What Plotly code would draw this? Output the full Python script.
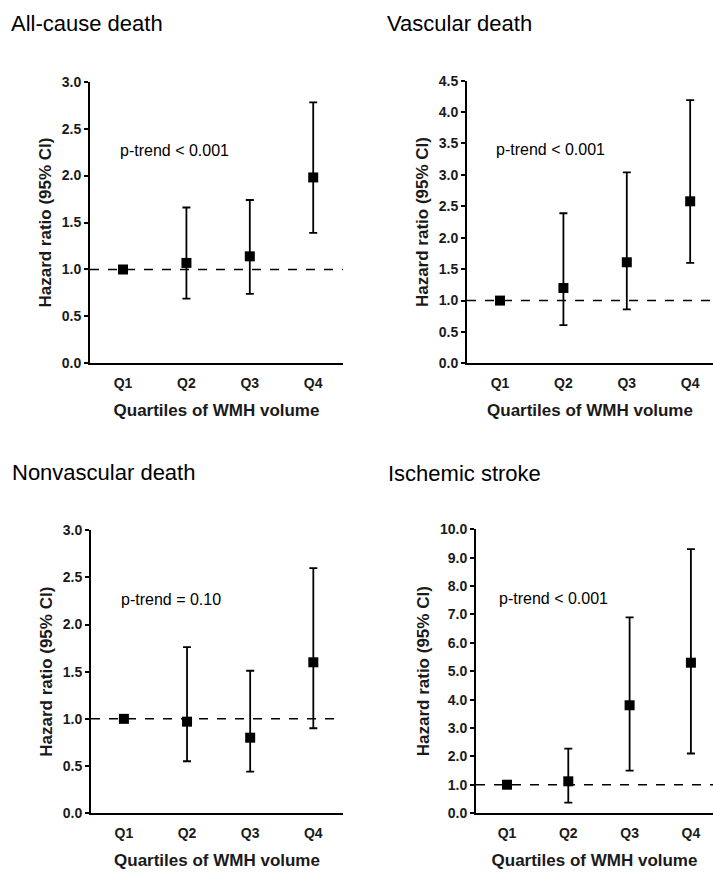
import plotly.graph_objects as go

quartiles = ["Q1", "Q2", "Q3", "Q4"]
x_pos = [1, 2, 3, 4]

titles = ["All-cause death", "Vascular death", "Nonvascular death", "Ischemic stroke"]
ptrend = ["p-trend < 0.001", "p-trend < 0.001", "p-trend = 0.10", "p-trend < 0.001"]

allcause_hr = [1.0, 1.07, 1.14, 1.98]
allcause_lo = [1.0, 0.69, 0.74, 1.39]
allcause_hi = [1.0, 1.66, 1.74, 2.78]

vascular_hr = [1.0, 1.20, 1.61, 2.58]
vascular_lo = [1.0, 0.61, 0.86, 1.60]
vascular_hi = [1.0, 2.39, 3.04, 4.19]

nonvasc_hr = [1.0, 0.97, 0.80, 1.60]
nonvasc_lo = [1.0, 0.55, 0.44, 0.90]
nonvasc_hi = [1.0, 1.76, 1.51, 2.60]

ischemic_hr = [1.0, 1.12, 3.8, 5.3]
ischemic_lo = [1.0, 0.37, 1.5, 2.1]
ischemic_hi = [1.0, 2.27, 6.9, 9.3]

y_max = [3.0, 4.5, 3.0, 10.0]
y_dtick = [0.5, 0.5, 0.5, 1.0]

W, H = 713, 880
# panel plot areas in pixels: (left, right, top, bottom)
boxes = [(90, 343, 75, 362), (467, 713, 74, 362), (91, 343, 532, 820), (476, 713, 531, 820)]
x_ranges = [[0.479, 4.47], [0.479, 4.36], [0.479, 4.47], [0.495, 4.36]]
title_pos = [(9, 16), (385, 16), (10, 473), (386, 474)]

series = [
    (allcause_hr, allcause_lo, allcause_hi),
    (vascular_hr, vascular_lo, vascular_hi),
    (nonvasc_hr, nonvasc_lo, nonvasc_hi),
    (ischemic_hr, ischemic_lo, ischemic_hi),
]

FONT = "Liberation Sans, Arial, sans-serif"
fig = go.Figure()
layout = dict(
    width=W, height=H, margin=dict(l=0, r=0, t=0, b=0),
    paper_bgcolor="white", plot_bgcolor="white", showlegend=False,
    font=dict(family=FONT, color="black"),
)
annotations = []
shapes = []

for i, (hr, lo, hi) in enumerate(series):
    n = i + 1
    xa = "x" if n == 1 else f"x{n}"
    ya = "y" if n == 1 else f"y{n}"
    plus = [h - m for h, m in zip(hi, hr)]
    minus = [m - l for m, l in zip(hr, lo)]
    fig.add_trace(go.Scatter(
        x=x_pos, y=hr, mode="markers", xaxis=xa, yaxis=ya,
        marker=dict(symbol="square", size=10, color="black"),
        error_y=dict(type="data", array=plus, arrayminus=minus, visible=True,
                     color="black", thickness=1.8, width=4),
        cliponaxis=False,
    ))
    l, r, t, b = boxes[i]
    xkey = "xaxis" if n == 1 else f"xaxis{n}"
    ykey = "yaxis" if n == 1 else f"yaxis{n}"
    layout[xkey] = dict(
        domain=[l / W, r / W], range=x_ranges[i], anchor=ya,
        tickvals=x_pos, ticktext=quartiles, ticks="",
        showgrid=False, zeroline=False, showline=True, linecolor="black", linewidth=2,
        tickfont=dict(family=FONT, size=14, color="#1a1a1a", weight="bold"),
        ticklabelstandoff=6,
        title=dict(text="<b>Quartiles of WMH volume</b>", font=dict(family=FONT, size=17, color="#1a1a1a"), standoff=14),
    )
    layout[ykey] = dict(
        domain=[1 - b / H, 1 - t / H], range=[0, y_max[i]], anchor=xa,
        dtick=y_dtick[i], tick0=0, tickformat=".1f", ticks="outside", ticklen=4, tickwidth=2,
        tickcolor="black",
        showgrid=False, zeroline=False, showline=True, linecolor="black", linewidth=2,
        tickfont=dict(family=FONT, size=14, color="#1a1a1a", weight="bold"),
        title=dict(text="<b>Hazard ratio (95% CI)</b>", font=dict(family=FONT, size=17, color="#1a1a1a"), standoff=6),
    )
    shapes.append(dict(type="line", xref=f"{xa} domain", yref=ya, x0=0, x1=1, y0=1, y1=1,
                       line=dict(color="black", width=1.5, dash="dash"), layer="below"))
    annotations.append(dict(text=ptrend[i], xref=f"{xa} domain", yref=f"{ya} domain",
                            x=0.11 if i != 3 else 0.09, y=0.757, xanchor="left", yanchor="middle",
                            showarrow=False, font=dict(family=FONT, size=16, color="black")))
    tx, ty = title_pos[i]
    annotations.append(dict(text=titles[i], xref="paper", yref="paper", x=tx / W, y=1 - ty / H,
                            xanchor="left", yanchor="middle", showarrow=False,
                            font=dict(family=FONT, size=22, color="black")))

layout["annotations"] = annotations
layout["shapes"] = shapes
fig.update_layout(**layout)
fig.write_html("out.html", config={"displayModeBar": False},
               post_script="document.body.style.margin='0px';document.body.style.overflow='hidden';")
